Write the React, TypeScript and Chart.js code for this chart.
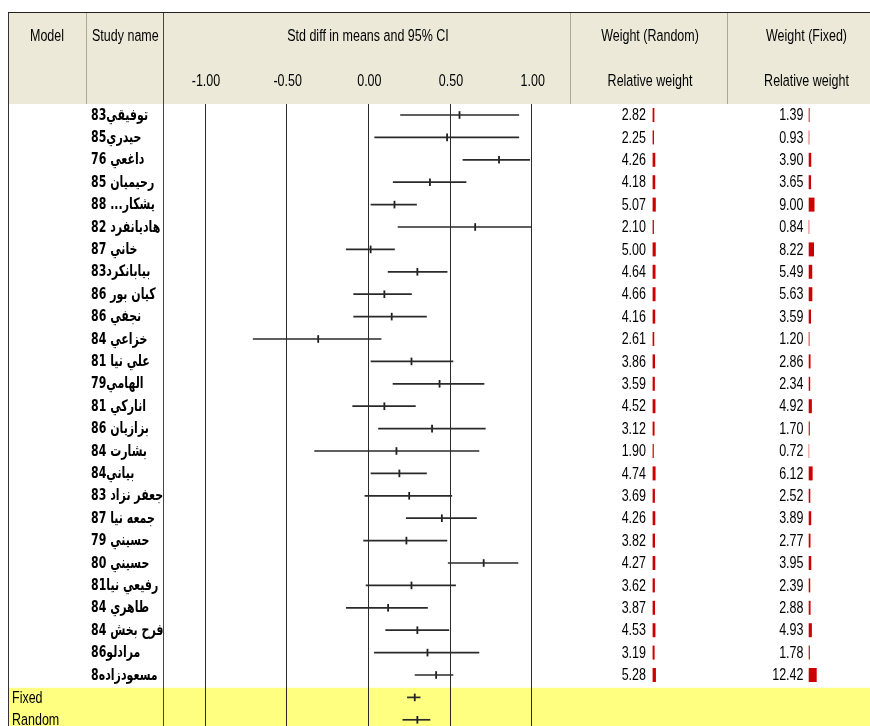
import React, { useEffect, useRef } from "react";
import { Chart, registerables } from "chart.js";

Chart.register(...registerables);

// ---------- DATA ----------
const studyNames = [
  "توفيقي83",
  "حيدري85",
  "داغعي 76",
  "رحيميان 85",
  "يشكار... 88",
  "هاديانفرد 82",
  "خاني 87",
  "بيابانكرد83",
  "كيان بور 86",
  "نجفي 86",
  "خزاعي 84",
  "علي نيا 81",
  "الهامي79",
  "اناركي 81",
  "بزازيان 86",
  "بشارت 84",
  "بياني84",
  "جعفر نزاد 83",
  "جمعه نيا 87",
  "حسيني 79",
  "حسيني 80",
  "رفيعي نيا81",
  "طاهري 84",
  "فرح بخش 84",
  "مرادلو86",
  "مسعودزاده8",
];
const summaryLabels = ["Fixed", "Random"];

// std diff in means (studies, then Fixed, Random)
const stdDiff = [
  0.558, 0.482, 0.8, 0.377, 0.16, 0.654, 0.014, 0.3, 0.098, 0.143, -0.307, 0.264, 0.436,
  0.098, 0.39, 0.172, 0.19, 0.25, 0.45, 0.233, 0.706, 0.264, 0.121, 0.3, 0.362, 0.415,
  0.284, 0.3,
];
const lowerLimit = [
  0.195, 0.037, 0.577, 0.15, 0.014, 0.18, -0.137, 0.119, -0.092, -0.092, -0.707, 0.014, 0.149,
  -0.098, 0.06, -0.331, 0.014, -0.023, 0.23, -0.031, 0.487, -0.016, -0.137, 0.104, 0.035, 0.284,
  0.237, 0.209,
];
const upperLimit = [
  0.923, 0.923, 0.99, 0.6, 0.297, 1.0, 0.162, 0.484, 0.266, 0.358, 0.08, 0.52, 0.71,
  0.29, 0.718, 0.679, 0.358, 0.513, 0.664, 0.483, 0.918, 0.536, 0.364, 0.495, 0.679, 0.52,
  0.319, 0.379,
];
const weightRandom = [
  2.82, 2.25, 4.26, 4.18, 5.07, 2.1, 5.0, 4.64, 4.66, 4.16, 2.61, 3.86, 3.59, 4.52, 3.12, 1.9,
  4.74, 3.69, 4.26, 3.82, 4.27, 3.62, 3.87, 4.53, 3.19, 5.28,
];
const weightFixed = [
  1.39, 0.93, 3.9, 3.65, 9.0, 0.84, 8.22, 5.49, 5.63, 3.59, 1.2, 2.86, 2.34, 4.92, 1.7, 0.72,
  6.12, 2.52, 3.89, 2.77, 3.95, 2.39, 2.88, 4.93, 1.78, 12.42,
];
const xTickValues = [-1, -0.5, 0, 0.5, 1];
const xTickLabels = ["-1.00", "-0.50", "0.00", "0.50", "1.00"];
const headerTop = ["Model", "Study name", "Std diff in means and 95% CI", "Weight (Random)", "Weight (Fixed)"];
const headerSub = ["Relative weight", "Relative weight"];

// ---------- LAYOUT ----------
const W = 870;
const H = 726;
const AREA_LEFT = 205;
const AREA_RIGHT = 531.7;
const AREA_TOP = 103.8;
const ROW_H = 22.4;
const Y_MIN = -0.5;
const Y_MAX = Y_MIN + (H - AREA_TOP) / ROW_H;

function axisRange(zeroPx: number, pxPerUnit: number) {
  const min = -(zeroPx - AREA_LEFT) / pxPerUnit;
  return { min, max: min + (AREA_RIGHT - AREA_LEFT) / pxPerUnit };
}
const randRange = axisRange(652.6, 0.63);
const fixRange = axisRange(808.7, 0.644);

const LATIN = "12.5px 'Liberation Sans', Arial, sans-serif";
const LATIN_SY = 1.35;
const ARABIC = "bold 11px 'DejaVu Sans', sans-serif";

function txt(
  ctx: CanvasRenderingContext2D,
  s: string,
  x: number,
  y: number,
  align: CanvasTextAlign,
  font: string,
  sx: number,
  sy: number,
  rtl = false
) {
  ctx.save();
  ctx.font = font;
  ctx.direction = rtl ? "rtl" : "ltr";
  ctx.textAlign = align;
  ctx.textBaseline = "middle";
  ctx.fillStyle = "#000";
  ctx.translate(x, y);
  ctx.scale(sx, sy);
  ctx.fillText(s, 0, 0);
  ctx.restore();
}

function vline(ctx: CanvasRenderingContext2D, x: number, y0: number, y1: number, color: string, w = 1) {
  ctx.save();
  ctx.strokeStyle = color;
  ctx.lineWidth = w;
  ctx.beginPath();
  ctx.moveTo(x, y0);
  ctx.lineTo(x, y1);
  ctx.stroke();
  ctx.restore();
}

const forestTable = {
  id: "forestTable",
  beforeDraw(chart: any) {
    const ctx: CanvasRenderingContext2D = chart.ctx;
    const xs = chart.scales.x;
    const ys = chart.scales.y;
    ctx.save();
    ctx.fillStyle = "#fff";
    ctx.fillRect(0, 0, W, H);
    // header
    ctx.fillStyle = "#ECE9D8";
    ctx.fillRect(8, 13, W - 8, 104 - 13);
    // summary band
    const bandTop = ys.getPixelForValue(studyNames.length - 0.43);
    ctx.fillStyle = "#FFFF80";
    ctx.fillRect(9, bandTop, W - 9, H - bandTop);
    ctx.restore();

    // header separators
    vline(ctx, 86.5, 13, 104, "#ACA899");
    vline(ctx, 570.5, 13, 104, "#ACA899");
    vline(ctx, 727.5, 13, 104, "#ACA899");
    // vertical reference lines
    xTickValues.forEach((v) => {
      const px = Math.floor(xs.getPixelForValue(v)) + 0.5;
      vline(ctx, px, 104, H, "#2b2b2b");
    });
    // column separator and borders
    vline(ctx, 163.5, 12, H, "#444");
    vline(ctx, 8.5, 12, H, "#333");
    ctx.save();
    ctx.strokeStyle = "#222";
    ctx.lineWidth = 1.2;
    ctx.beginPath();
    ctx.moveTo(8, 12.5);
    ctx.lineTo(W, 12.5);
    ctx.stroke();
    ctx.restore();

    // header text
    const y1 = 36;
    const y2 = 81.5;
    txt(ctx, headerTop[0], 47, y1, "center", LATIN, 1, LATIN_SY);
    txt(ctx, headerTop[1], 92, y1, "left", LATIN, 1, LATIN_SY);
    txt(ctx, headerTop[2], 368, y1, "center", LATIN, 1, LATIN_SY);
    txt(ctx, headerTop[3], 650, y1, "center", LATIN, 1, LATIN_SY);
    txt(ctx, headerTop[4], 806.5, y1, "center", LATIN, 1, LATIN_SY);
    txt(ctx, headerSub[0], 650, y2, "center", LATIN, 1, LATIN_SY);
    txt(ctx, headerSub[1], 806.5, y2, "center", LATIN, 1, LATIN_SY);
    xTickValues.forEach((v, i) => {
      txt(ctx, xTickLabels[i], xs.getPixelForValue(v) + 1, y2, "center", LATIN, 1, LATIN_SY);
    });
  },
  afterDatasetsDraw(chart: any) {
    const ctx: CanvasRenderingContext2D = chart.ctx;
    const ys = chart.scales.y;
    studyNames.forEach((name, i) => {
      const y = ys.getPixelForValue(i);
      txt(ctx, name, 91, y + 0.5, "left", ARABIC, 1, 1.45, true);
      txt(ctx, weightRandom[i].toFixed(2), 646, y + 0.5, "right", LATIN, 1, LATIN_SY);
      txt(ctx, weightFixed[i].toFixed(2), 803.5, y + 0.5, "right", LATIN, 1, LATIN_SY);
    });
    summaryLabels.forEach((lab, k) => {
      const y = ys.getPixelForValue(studyNames.length + k);
      txt(ctx, lab, 12, y + 0.5, "left", LATIN, 1, LATIN_SY);
    });
  },
};

export default function App() {
  const ref = useRef<HTMLCanvasElement | null>(null);
  useEffect(() => {
    if (!ref.current) return;
    const nRows = stdDiff.length;
    const rows = Array.from({ length: nRows }, (_, i) => i);
    const studyRows = rows.slice(0, studyNames.length);
    const chart = new Chart(ref.current, {
      type: "bar",
      data: {
        datasets: [
          {
            type: "bar",
            label: "95% CI",
            data: rows.map((i) => ({ y: i, x: [lowerLimit[i], upperLimit[i]] })) as any,
            backgroundColor: "#2a2a2a",
            borderWidth: 0,
            barThickness: 1.7,
            grouped: false,
            inflateAmount: 0,
            clip: false as any,
            xAxisID: "x",
            yAxisID: "y",
            indexAxis: "y",
          } as any,
          {
            type: "scatter",
            label: "Std diff in means",
            data: rows.map((i) => ({ x: stdDiff[i], y: i })),
            pointStyle: "line",
            rotation: 90,
            radius: 3.8,
            borderWidth: 1.8,
            borderColor: "#1e1e1e",
            backgroundColor: "#1e1e1e",
            clip: false as any,
            xAxisID: "x",
            yAxisID: "y",
            indexAxis: "x",
          } as any,
          {
            type: "bar",
            label: "Weight (Random)",
            data: studyRows.map((i) => ({ y: i, x: [0, weightRandom[i]] })) as any,
            backgroundColor: "#CC0000",
            borderWidth: 0,
            barThickness: 14,
            grouped: false,
            inflateAmount: 0,
            clip: false as any,
            xAxisID: "xr",
            yAxisID: "y",
            indexAxis: "y",
          } as any,
          {
            type: "bar",
            label: "Weight (Fixed)",
            data: studyRows.map((i) => ({ y: i, x: [0, weightFixed[i]] })) as any,
            backgroundColor: "#CC0000",
            borderWidth: 0,
            barThickness: 14,
            grouped: false,
            inflateAmount: 0,
            clip: false as any,
            xAxisID: "xf",
            yAxisID: "y",
            indexAxis: "y",
          } as any,
        ],
      },
      options: {
        indexAxis: "y",
        responsive: false,
        animation: false,
        events: [],
        layout: {
          autoPadding: false,
          padding: { left: AREA_LEFT, right: W - AREA_RIGHT, top: AREA_TOP, bottom: 0 },
        },
        plugins: { legend: { display: false }, tooltip: { enabled: false }, title: { display: false } },
        scales: {
          x: { type: "linear", min: -1, max: 1, display: false, beginAtZero: false, bounds: "data" },
          xr: { type: "linear", axis: "x", min: randRange.min, max: randRange.max, display: false, beginAtZero: false, bounds: "data" } as any,
          xf: { type: "linear", axis: "x", min: fixRange.min, max: fixRange.max, display: false, beginAtZero: false, bounds: "data" } as any,
          y: { type: "linear", min: Y_MIN, max: Y_MAX, reverse: true, display: false, offset: false, beginAtZero: false, bounds: "data" },
        },
      } as any,
      plugins: [forestTable],
    });
    return () => chart.destroy();
  }, []);

  return (
    <div style={{ position: "absolute", left: 0, top: 0, width: W, height: H }}>
      <canvas ref={ref} width={W} height={H} style={{ display: "block", width: W, height: H }} />
    </div>
  );
}
